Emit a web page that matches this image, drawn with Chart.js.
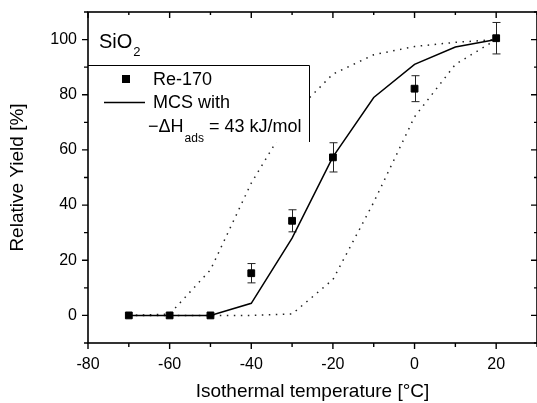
<!DOCTYPE html>
<html>
<head>
<meta charset="utf-8">
<script src="https://cdn.jsdelivr.net/npm/chart.js@4/dist/chart.umd.min.js"></script>
<style>
  html, body { margin: 0; padding: 0; background: #fff; overflow: hidden; }
  canvas { display: block; }
</style>
</head>
<body>
<canvas id="yieldChart" width="537" height="403"></canvas>
<script>
// temperatures of the measured points [°C]
var tempRe = [-70, -60, -50, -40, -30, -20, 0, 20];
var yieldRe = [0, 0, 0, 15.3, 34.3, 57.3, 82.2, 100.5];
var errRe = [0, 0, 0, 3.5, 4, 5.3, 4.7, 5.7];

// MCS simulation (solid) and the two bounds (dotted)
var tempMcs = [-70, -60, -50, -40, -30, -20, -10, 0, 10, 20];
var yieldMcs = [0, 0, 0, 4.4, 28, 57.5, 79, 91, 97.3, 100];
var yieldUpper = [0, 0.5, 16.5, 48, 72.5, 87.5, 94.5, 97.5, 99, 100];
var yieldLower = [0, 0, 0, 0, 0.5, 13, 41, 72, 91, 100];

var xTicks = [-80, -60, -40, -20, 0, 20];
var yTicks = [0, 20, 40, 60, 80, 100];

var FONT = "'Liberation Sans', Arial, sans-serif";

function toPoints(xs, ys) {
  return xs.map(function (x, i) { return { x: x, y: ys[i] }; });
}

// error bars, frame, ticks, legend box and the SiO2 label
var decorPlugin = {
  id: 'decor',
  beforeDatasetsDraw: function (chart) {
    var ctx = chart.ctx;
    var xs = chart.scales.x, ys = chart.scales.y;
    ctx.save();
    ctx.strokeStyle = '#222';
    ctx.lineWidth = 1;
    tempRe.forEach(function (t, i) {
      if (!errRe[i]) return;
      var px = Math.round(xs.getPixelForValue(t)) + 0.5;
      var top = ys.getPixelForValue(yieldRe[i] + errRe[i]);
      var bot = ys.getPixelForValue(yieldRe[i] - errRe[i]);
      ctx.beginPath();
      ctx.moveTo(px, top); ctx.lineTo(px, bot);
      ctx.moveTo(px - 4, top); ctx.lineTo(px + 4, top);
      ctx.moveTo(px - 4, bot); ctx.lineTo(px + 4, bot);
      ctx.stroke();
    });
    ctx.restore();
  },
  afterDatasetsDraw: function (chart) {
    var ctx = chart.ctx;
    var a = chart.chartArea;
    var xs = chart.scales.x, ys = chart.scales.y;
    ctx.save();

    // legend box (white, covers the dotted curve)
    var boxR = 309, boxT = 65, boxB = 142;
    ctx.fillStyle = '#fff';
    ctx.fillRect(a.left + 1, boxT, boxR - a.left - 1, boxB - boxT);
    ctx.strokeStyle = '#000';
    ctx.lineWidth = 1;
    ctx.beginPath();
    ctx.moveTo(a.left, boxT + 0.5); ctx.lineTo(boxR + 0.5, boxT + 0.5);
    ctx.lineTo(boxR + 0.5, boxB);
    ctx.stroke();

    ctx.fillStyle = '#000';
    ctx.fillRect(122, 75, 8, 8);
    ctx.lineWidth = 1.5;
    ctx.beginPath();
    ctx.moveTo(104, 102.5); ctx.lineTo(145, 102.5);
    ctx.stroke();

    ctx.textBaseline = 'alphabetic';
    ctx.textAlign = 'left';
    ctx.font = '18px ' + FONT;
    ctx.fillText('Re-170', 153, 85);
    ctx.fillText('MCS with', 153, 108);
    var x = 148;
    ctx.fillText('\u2212\u0394H', x, 132);
    x += ctx.measureText('\u2212\u0394H').width;
    ctx.font = '12px ' + FONT;
    ctx.fillText('ads', x + 1, 142);
    x += ctx.measureText('ads').width + 1;
    ctx.font = '18px ' + FONT;
    ctx.fillText(' = 43 kJ/mol', x, 132);

    // SiO2 label
    ctx.font = '20px ' + FONT;
    ctx.fillText('SiO', 99, 48);
    var w = ctx.measureText('SiO').width;
    ctx.font = '13px ' + FONT;
    ctx.fillText('2', 99 + w + 1, 56);

    // frame (right edge falls just outside the canvas)
    ctx.lineWidth = 1.6;
    ctx.strokeStyle = '#000';
    ctx.strokeRect(a.left, a.top, a.right - a.left, a.bottom - a.top);

    // ticks: major every 20, minor every 10
    ctx.lineWidth = 1.4;
    ctx.beginPath();
    for (var v = -80; v <= 30; v += 10) {
      var px = xs.getPixelForValue(v);
      var major = v % 20 === 0;
      ctx.moveTo(px, a.bottom); ctx.lineTo(px, a.bottom + (major ? 6 : 4));
      ctx.moveTo(px, a.top); ctx.lineTo(px, a.top + (major ? 6 : 3));
    }
    for (var u = -10; u <= 110; u += 10) {
      var py = ys.getPixelForValue(u);
      var maj = u % 20 === 0;
      ctx.moveTo(a.left, py); ctx.lineTo(a.left - (maj ? 6 : 4), py);
      ctx.moveTo(a.right, py); ctx.lineTo(a.right - (maj ? 6 : 3), py);
    }
    ctx.stroke();
    ctx.restore();
  }
};

var ctxChart = document.getElementById('yieldChart').getContext('2d');
var yieldChart = new Chart(ctxChart, {
  type: 'scatter',
  data: {
    datasets: [
      {
        label: 'Re-170',
        data: toPoints(tempRe, yieldRe),
        showLine: false,
        pointStyle: 'rect',
        pointRadius: 4.8,
        pointBorderWidth: 1,
        backgroundColor: '#000',
        borderColor: '#000'
      },
      {
        label: 'MCS',
        data: toPoints(tempMcs, yieldMcs),
        showLine: true,
        pointRadius: 0,
        borderColor: '#000',
        borderWidth: 1.5,
        fill: false
      },
      {
        label: 'upper',
        data: toPoints(tempMcs, yieldUpper),
        showLine: true,
        pointRadius: 0,
        borderColor: '#222',
        borderWidth: 1.5,
        borderDash: [1.5, 5.5],
        fill: false
      },
      {
        label: 'lower',
        data: toPoints(tempMcs, yieldLower),
        showLine: true,
        pointRadius: 0,
        borderColor: '#222',
        borderWidth: 1.5,
        borderDash: [1.5, 5.5],
        fill: false
      }
    ]
  },
  options: {
    responsive: false,
    animation: false,
    events: [],
    layout: { autoPadding: false, padding: { top: 12, right: -1, left: 0, bottom: 0 } },
    plugins: {
      legend: { display: false },
      tooltip: { enabled: false }
    },
    scales: {
      x: {
        type: 'linear',
        min: -80,
        max: 30,
        grid: { display: false, drawTicks: false },
        border: { display: false },
        afterBuildTicks: function (scale) {
          scale.ticks = xTicks.map(function (v) { return { value: v }; });
        },
        afterFit: function (scale) {
          scale.height = 60;
          scale.paddingLeft = 0;
          scale.paddingRight = 0;
        },
        ticks: {
          autoSkip: false,
          maxRotation: 0,
          padding: 12,
          color: '#000',
          font: { family: FONT, size: 16 }
        },
        title: {
          display: true,
          text: 'Isothermal temperature [\u00B0C]',
          color: '#000',
          font: { family: FONT, size: 19 },
          padding: { top: 0, bottom: 0 }
        }
      },
      y: {
        min: -10,
        max: 110,
        grid: { display: false, drawTicks: false },
        border: { display: false },
        afterBuildTicks: function (scale) {
          scale.ticks = yTicks.map(function (v) { return { value: v }; });
        },
        afterFit: function (scale) {
          scale.width = 88;
          scale.paddingTop = 0;
          scale.paddingBottom = 0;
        },
        ticks: {
          autoSkip: false,
          padding: 11,
          color: '#000',
          font: { family: FONT, size: 16 }
        },
        title: {
          display: true,
          text: 'Relative Yield [%]',
          color: '#000',
          font: { family: FONT, size: 19 },
          padding: { top: 6, bottom: 0 }
        }
      }
    }
  },
  plugins: [decorPlugin]
});
</script>
</body>
</html>
